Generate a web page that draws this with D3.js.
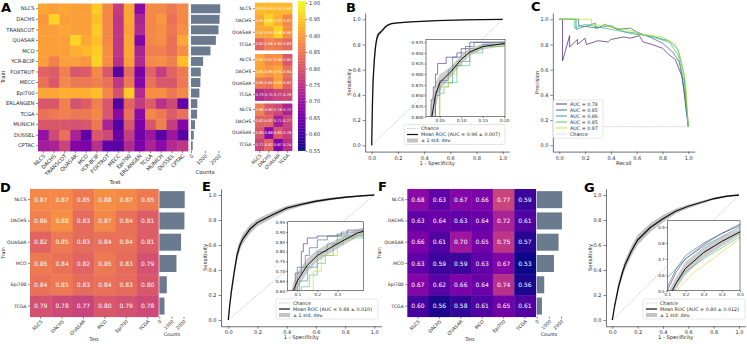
<!DOCTYPE html>
<html>
<head>
<meta charset="utf-8">
<script src="https://cdn.jsdelivr.net/npm/d3@7"></script>
<style>
body { margin: 0; background: #fff; }
svg text { font-family: "DejaVu Sans", sans-serif; fill: #262626; }
</style>
</head>
<body>
<svg id="fig" width="747" height="344"></svg>
<script>
//---------------- data

const cohortsA = ["NLCS","DACHS","TRANSCOT","QUASAR","MCO","YCR-BCIP","FOXTROT","MECC","Epi700","ERLANGEN","TCGA","MUNICH","DUSSEL","CPTAC"]
const matrixA = [
  [0.91,0.90,0.91,0.90,0.90,0.95,0.87,0.76,0.91,0.68,0.87,0.87,0.85,0.87],
  [0.89,0.96,0.90,0.90,0.90,0.94,0.87,0.75,0.91,0.72,0.87,0.89,0.84,0.87],
  [0.90,0.90,0.91,0.90,0.90,0.95,0.87,0.75,0.90,0.73,0.87,0.88,0.85,0.88],
  [0.90,0.90,0.90,0.96,0.91,0.94,0.87,0.75,0.91,0.67,0.87,0.88,0.84,0.91],
  [0.90,0.90,0.90,0.92,0.93,0.95,0.88,0.75,0.91,0.72,0.86,0.86,0.84,0.88],
  [0.90,0.86,0.90,0.90,0.89,0.96,0.88,0.74,0.90,0.73,0.87,0.88,0.86,0.94],
  [0.82,0.81,0.86,0.80,0.81,0.87,0.80,0.62,0.83,0.66,0.82,0.76,0.82,0.85],
  [0.84,0.80,0.87,0.85,0.85,0.86,0.84,0.75,0.85,0.67,0.84,0.80,0.80,0.85],
  [0.91,0.91,0.92,0.92,0.92,0.94,0.87,0.79,0.95,0.73,0.88,0.88,0.85,0.87],
  [0.80,0.80,0.86,0.79,0.81,0.86,0.80,0.61,0.82,0.76,0.81,0.74,0.78,0.63],
  [0.84,0.85,0.86,0.85,0.85,0.87,0.80,0.68,0.84,0.68,0.87,0.85,0.81,0.84],
  [0.80,0.80,0.80,0.79,0.80,0.85,0.72,0.61,0.80,0.66,0.80,0.86,0.76,0.67],
  [0.69,0.78,0.84,0.72,0.63,0.80,0.78,0.64,0.76,0.65,0.70,0.62,0.70,0.62],
  [0.71,0.72,0.77,0.67,0.66,0.74,0.63,0.62,0.73,0.66,0.72,0.68,0.73,0.75]
]
const countsA = [2125,2075,2000,1810,1415,880,710,680,610,460,440,290,200,125]

const subCohorts = ["NLCS","DACHS","QUASAR","TCGA"]
const subMatrix1 = [[0.93,0.93,0.93,0.93],[0.91,0.96,0.92,0.87],[0.91,0.91,0.96,0.88],[0.82,0.86,0.85,0.83]]
const subMatrix2 = [[0.91,0.87,0.88,0.80],[0.91,0.89,0.91,0.84],[0.85,0.84,0.90,0.82],[0.73,0.75,0.77,0.78]]
const subMatrix3 = [[0.86,0.80,0.78,0.72],[0.82,0.82,0.71,0.77],[0.80,0.68,0.80,0.76],[0.77,0.82,0.67,0.74]]
const colorbarTicks = [0.55,0.60,0.65,0.70,0.75,0.80,0.85,0.90,0.95,1.00]

const cohortsD = ["NLCS","DACHS","QUASAR","MCO","Epi700","TCGA"]
const matrixD = [
  [0.87,0.87,0.85,0.88,0.87,0.85],
  [0.86,0.88,0.83,0.87,0.84,0.81],
  [0.82,0.85,0.83,0.84,0.84,0.81],
  [0.85,0.84,0.82,0.85,0.83,0.79],
  [0.84,0.85,0.83,0.84,0.83,0.80],
  [0.79,0.78,0.77,0.80,0.79,0.78]
]
const matrixF = [
  [0.68,0.63,0.67,0.66,0.77,0.59],
  [0.63,0.64,0.63,0.64,0.72,0.61],
  [0.66,0.61,0.70,0.65,0.75,0.57],
  [0.63,0.59,0.59,0.63,0.67,0.53],
  [0.67,0.62,0.66,0.64,0.74,0.56],
  [0.60,0.56,0.58,0.61,0.65,0.61]
]
const countsD = [2100,2075,1800,1420,620,430]
const countTicks = [0,1000,2000]

// ROC: [fpr, tpr, std]
const rocMeanB = [[0,0,0],[0.005,0.3,0.08],[0.01,0.5,0.08],[0.02,0.68,0.06],[0.03,0.79,0.045],[0.04,0.85,0.03],[0.05,0.88,0.02],[0.06,0.89,0.015],[0.08,0.91,0.012],[0.1,0.935,0.01],[0.12,0.952,0.008],[0.15,0.965,0.007],[0.2,0.972,0.006],[0.3,0.98,0.004],[0.5,0.99,0.003],[0.7,0.995,0.002],[1,1,0]]
const rocFoldsB = [
  [[0.03,0.80],[0.03,0.84],[0.035,0.87],[0.04,0.90],[0.045,0.925],[0.065,0.94],[0.09,0.95],[0.10,0.96],[0.12,0.975],[0.2,0.975]],
  [[0.035,0.80],[0.04,0.85],[0.05,0.885],[0.07,0.91],[0.08,0.94],[0.10,0.95],[0.11,0.965],[0.13,0.975],[0.2,0.975]],
  [[0.04,0.80],[0.04,0.86],[0.05,0.88],[0.08,0.92],[0.10,0.93],[0.12,0.96],[0.15,0.97],[0.2,0.97]],
  [[0.04,0.80],[0.05,0.855],[0.06,0.87],[0.07,0.88],[0.09,0.92],[0.12,0.95],[0.15,0.965],[0.2,0.965]],
  [[0.045,0.80],[0.05,0.87],[0.07,0.90],[0.09,0.93],[0.11,0.955],[0.14,0.965],[0.2,0.965]]
]
const rocMeanE = [[0,0,0],[0.01,0.12,0.03],[0.02,0.22,0.04],[0.04,0.38,0.045],[0.06,0.52,0.045],[0.08,0.60,0.04],[0.1,0.65,0.04],[0.15,0.73,0.035],[0.2,0.78,0.03],[0.3,0.84,0.025],[0.4,0.895,0.02],[0.5,0.925,0.015],[0.6,0.95,0.012],[0.7,0.968,0.01],[0.8,0.982,0.007],[0.9,0.992,0.004],[1,1,0]]
const rocFoldsE = [
  [[0.09,0.60],[0.09,0.69],[0.12,0.80],[0.13,0.84],[0.15,0.87],[0.2,0.88],[0.3,0.89],[0.35,0.91],[0.43,0.92]],
  [[0.10,0.60],[0.10,0.72],[0.14,0.78],[0.16,0.82],[0.2,0.86],[0.25,0.88],[0.32,0.90],[0.43,0.915]],
  [[0.11,0.60],[0.11,0.65],[0.15,0.72],[0.2,0.80],[0.25,0.84],[0.3,0.88],[0.43,0.90]],
  [[0.12,0.60],[0.12,0.62],[0.16,0.68],[0.2,0.74],[0.24,0.78],[0.28,0.84],[0.33,0.87],[0.43,0.89]],
  [[0.14,0.60],[0.18,0.70],[0.22,0.78],[0.3,0.86],[0.38,0.89],[0.43,0.90]]
]
const rocMeanG = [[0,0,0],[0.02,0.12,0.02],[0.05,0.27,0.03],[0.08,0.38,0.035],[0.1,0.44,0.04],[0.15,0.55,0.04],[0.2,0.64,0.04],[0.3,0.74,0.035],[0.4,0.81,0.03],[0.5,0.87,0.02],[0.6,0.91,0.015],[0.7,0.94,0.012],[0.8,0.97,0.008],[0.9,0.99,0.004],[1,1,0]]
const rocFoldsG = [
  [[0.1,0.50],[0.15,0.62],[0.2,0.70],[0.3,0.79],[0.4,0.86],[0.5,0.91]],
  [[0.1,0.52],[0.15,0.64],[0.2,0.72],[0.3,0.80],[0.4,0.86],[0.5,0.92]],
  [[0.1,0.58],[0.15,0.64],[0.2,0.70],[0.3,0.78],[0.4,0.84],[0.5,0.90]],
  [[0.12,0.50],[0.2,0.62],[0.3,0.70],[0.4,0.77],[0.5,0.84]],
  [[0.15,0.50],[0.25,0.62],[0.35,0.70],[0.42,0.76],[0.5,0.83]]
]

// PR curves: [recall, precision]
const prCurves = [
  [[0,1],[0.025,1],[0.025,0.67],[0.08,0.87],[0.08,0.78],[0.14,0.84],[0.14,0.80],[0.2,0.85],[0.21,0.80],[0.3,0.83],[0.38,0.82],[0.4,0.84],[0.5,0.86],[0.55,0.85],[0.62,0.87],[0.65,0.82],[0.72,0.80],[0.8,0.77],[0.85,0.72],[0.9,0.68],[0.93,0.60],[0.95,0.55],[0.97,0.40],[0.98,0.30],[1,0.15]],
  [[0,1],[0.15,1],[0.15,0.95],[0.3,0.93],[0.35,0.96],[0.45,0.92],[0.55,0.93],[0.6,0.90],[0.7,0.86],[0.8,0.81],[0.88,0.74],[0.93,0.66],[0.96,0.50],[0.98,0.35],[1,0.15]],
  [[0,1],[0.13,1],[0.13,0.92],[0.28,0.97],[0.28,0.93],[0.4,0.95],[0.5,0.90],[0.6,0.88],[0.7,0.87],[0.85,0.83],[0.92,0.76],[0.97,0.55],[1,0.15]],
  [[0,1],[0.12,1],[0.12,0.93],[0.2,0.96],[0.3,0.94],[0.45,0.91],[0.6,0.89],[0.72,0.86],[0.85,0.82],[0.92,0.72],[0.97,0.50],[1,0.15]],
  [[0,1],[0.25,1],[0.25,0.96],[0.35,0.95],[0.45,0.93],[0.55,0.91],[0.65,0.88],[0.8,0.86],[0.9,0.80],[0.94,0.70],[0.98,0.50],[1,0.15]]
]
const prAUC = [0.78,0.85,0.86,0.85,0.87]
const prChance = 0.148
const unitTicks = [0,0.2,0.4,0.6,0.8,1.0]

//---------------- setup

const svg = d3.select("#fig")
const plasma = d3.scaleSequential(d3.interpolatePlasma).domain([0.55,1.0]).clamp(true)
const foldColor = d3.scaleOrdinal().domain([0,1,2,3,4])
  .range([0.1,0.3,0.5,0.7,0.9].map(d3.interpolateViridis))
const axisColor = "#333"

function styleAxis(g, fs) {
  g.selectAll("line").attr("stroke", axisColor).attr("stroke-width", 0.6)
  g.selectAll(".domain").attr("stroke", axisColor).attr("stroke-width", 0.7)
  g.selectAll("text").attr("font-size", fs).attr("fill", "#262626").attr("font-family", "DejaVu Sans")
}

function rotateLabels(g, fs) {
  g.selectAll("text")
    .attr("font-size", fs)
    .attr("text-anchor", "end")
    .attr("x", 0).attr("y", 0).attr("dy", "0.35em")
    .attr("transform", "translate(1,4) rotate(-45)")
}

function label(x, y, txt, fs, opt = {}) {
  const t = svg.append("text").attr("x", x).attr("y", y).attr("font-size", fs)
    .attr("text-anchor", opt.anchor || "middle").text(txt)
  if (opt.rotate) t.attr("transform", `rotate(${opt.rotate},${x},${y})`)
  if (opt.bold) t.attr("font-weight", "bold")
  return t
}

//---------------- heatmap helper

function heatmap(box, rows, cols, mat, opt) {
  const xs = d3.scaleBand().domain(cols).range([box.x0, box.x1])
  const ys = d3.scaleBand().domain(rows).range([box.y0, box.y1])
  const g = svg.append("g")
  const cells = []
  rows.forEach((r, i) => cols.forEach((c, j) => cells.push({r, c, v: mat[i][j]})))
  g.selectAll("rect").data(cells).join("rect")
    .attr("x", d => xs(d.c)).attr("y", d => ys(d.r))
    .attr("width", xs.bandwidth() + 0.4).attr("height", ys.bandwidth() + 0.4)
    .attr("fill", d => plasma(d.v))
  if (opt.annot) {
    g.selectAll("text.val").data(cells).join("text").attr("class", "val")
      .attr("x", d => xs(d.c) + xs.bandwidth() / 2)
      .attr("y", d => ys(d.r) + ys.bandwidth() / 2)
      .attr("dy", "0.36em").attr("text-anchor", "middle")
      .attr("font-size", opt.annot).style("fill", "#fff")
      .text(d => d3.format(".2f")(d.v))
  }
  const ya = g.append("g").attr("transform", `translate(${box.x0},0)`)
    .call(d3.axisLeft(ys).tickSize(2).tickPadding(1.5))
  ya.select(".domain").remove()
  styleAxis(ya, opt.fs)
  if (opt.xlabels) {
    const xa = g.append("g").attr("transform", `translate(0,${box.y1})`)
      .call(d3.axisBottom(xs).tickSize(2))
    xa.select(".domain").remove()
    styleAxis(xa, opt.fs)
    rotateLabels(xa, opt.fs)
  }
  return {xs, ys}
}

function bars(box, rows, counts, xRange, pad, fs) {
  const ys = d3.scaleBand().domain(rows).range([box.y0, box.y1]).paddingInner(pad).paddingOuter(pad / 2)
  const xs = d3.scaleLinear().domain([0, 2000]).range(xRange)
  svg.append("g").selectAll("rect").data(counts).join("rect")
    .attr("x", xs(0)).attr("y", (d, i) => ys(rows[i]))
    .attr("width", d => xs(d) - xs(0)).attr("height", ys.bandwidth())
    .attr("fill", "#6b7b8f")
  const xa = svg.append("g").attr("transform", `translate(0,${box.y1})`)
    .call(d3.axisBottom(xs).tickValues(countTicks).tickSize(2).tickFormat(d3.format("d")))
  xa.select(".domain").remove()
  styleAxis(xa, fs)
  rotateLabels(xa, fs)
}

//---------------- ROC helper

function rocPanel(p) {
  const x = d3.scaleLinear().domain([0, 1]).range([p.xa, p.xb])
  const y = d3.scaleLinear().domain([0, 1]).range([p.ya, p.yb])
  const xAxisScale = x.copy().domain([-0.05, 1.05]).range([x(-0.05), x(1.05)])
  const yAxisScale = y.copy().domain([-0.05, 1.05]).range([y(-0.05), y(1.05)])

  const gx = svg.append("g").attr("transform", `translate(0,${y(-0.05)})`)
    .call(d3.axisBottom(xAxisScale).tickValues(unitTicks).tickSize(2.5).tickSizeOuter(0).tickPadding(2).tickFormat(d3.format(".1f")))
  styleAxis(gx, 5)
  const gy = svg.append("g").attr("transform", `translate(${x(-0.05)},0)`)
    .call(d3.axisLeft(yAxisScale).tickValues(unitTicks).tickSize(2.5).tickSizeOuter(0).tickPadding(2).tickFormat(d3.format(".1f")))
  styleAxis(gy, 5)

  label((p.xa + p.xb) / 2, y(-0.05) + 13, "1 - Specificity", 5.2)
  label(x(-0.05) - 14, (p.ya + p.yb) / 2, "Sensitivity", 5.2, {rotate: -90})

  svg.append("line").attr("x1", x(0)).attr("y1", y(0)).attr("x2", x(1)).attr("y2", y(1))
    .attr("stroke", "#aaa").attr("stroke-width", 0.6).attr("stroke-dasharray", "1.5,1")

  const band = d3.area().x(d => x(d[0])).y0(d => y(Math.max(0, d[1] - d[2]))).y1(d => y(Math.min(1, d[1] + d[2])))
  const line = d3.line().x(d => x(d[0])).y(d => y(d[1]))
  svg.append("path").attr("d", band(p.mean)).attr("fill", "#999").attr("opacity", 0.6)
  svg.append("path").attr("d", line(p.mean)).attr("fill", "none").attr("stroke", "#111").attr("stroke-width", 1.3)

  // inset
  const ix = d3.scaleLinear().domain(p.inset.xd).range([p.inset.x0, p.inset.x1])
  const iy = d3.scaleLinear().domain(p.inset.yd).range([p.inset.y1, p.inset.y0])
  const clipId = "clip" + p.id
  svg.append("clipPath").attr("id", clipId).append("rect")
    .attr("x", p.inset.x0).attr("y", p.inset.y0)
    .attr("width", p.inset.x1 - p.inset.x0).attr("height", p.inset.y1 - p.inset.y0)
  svg.append("rect").attr("x", p.inset.x0).attr("y", p.inset.y0)
    .attr("width", p.inset.x1 - p.inset.x0).attr("height", p.inset.y1 - p.inset.y0)
    .attr("fill", "#fff")
  const ig = svg.append("g").attr("clip-path", `url(#${clipId})`)
  const iline = d3.line().x(d => ix(d[0])).y(d => iy(d[1])).curve(p.inset.step ? d3.curveStepAfter : d3.curveLinear)
  p.folds.forEach((f, i) => {
    ig.append("path").attr("d", iline(f)).attr("fill", "none")
      .attr("stroke", foldColor(i)).attr("stroke-width", 0.7).attr("opacity", 0.85)
  })
  const iband = d3.area().x(d => ix(d[0])).y0(d => iy(d[1] - d[2])).y1(d => iy(d[1] + d[2]))
  ig.append("path").attr("d", iband(p.mean)).attr("fill", "#999").attr("opacity", 0.5)
  ig.append("path").attr("d", d3.line().x(d => ix(d[0])).y(d => iy(d[1]))(p.mean))
    .attr("fill", "none").attr("stroke", "#111").attr("stroke-width", 1)
  svg.append("rect").attr("x", p.inset.x0).attr("y", p.inset.y0)
    .attr("width", p.inset.x1 - p.inset.x0).attr("height", p.inset.y1 - p.inset.y0)
    .attr("fill", "none").attr("stroke", "#333").attr("stroke-width", 0.6)
  const ixa = svg.append("g").attr("transform", `translate(0,${p.inset.y1})`)
    .call(d3.axisBottom(ix).tickValues(p.inset.xt).tickSize(1.5).tickPadding(1).tickFormat(d3.format(p.inset.xf)))
  ixa.select(".domain").remove()
  styleAxis(ixa, 4.2)
  const iya = svg.append("g").attr("transform", `translate(${p.inset.x0},0)`)
    .call(d3.axisLeft(iy).tickValues(p.inset.yt).tickSize(1.5).tickPadding(1).tickFormat(d3.format(p.inset.yf)))
  iya.select(".domain").remove()
  styleAxis(iya, 4.2)

  // legend
  const L = p.legend
  svg.append("rect").attr("x", L.x).attr("y", L.y).attr("width", L.w).attr("height", 20)
    .attr("rx", 1.5).attr("fill", "#fff").attr("fill-opacity", 0.85).attr("stroke", "#ccc").attr("stroke-width", 0.5)
  const ly = i => L.y + 4 + i * 6
  svg.append("line").attr("x1", L.x + 3).attr("x2", L.x + 14).attr("y1", ly(0)).attr("y2", ly(0))
    .attr("stroke", "#aaa").attr("stroke-width", 0.6).attr("stroke-dasharray", "1.5,1")
  svg.append("line").attr("x1", L.x + 3).attr("x2", L.x + 14).attr("y1", ly(1)).attr("y2", ly(1))
    .attr("stroke", "#111").attr("stroke-width", 1.2)
  svg.append("rect").attr("x", L.x + 3).attr("y", ly(2) - 2).attr("width", 11).attr("height", 4)
    .attr("fill", "#999").attr("opacity", 0.6)
  ;["Chance", p.meanLabel, "± 1 std. dev."].forEach((t, i) => {
    svg.append("text").attr("x", L.x + 17).attr("y", ly(i)).attr("dy", "0.35em").attr("font-size", 4.8).text(t)
  })
}

//---------------- Panel A

heatmap({x0: 38, x1: 188, y0: 3.5, y1: 151}, cohortsA, cohortsA, matrixA, {fs: 5.2, xlabels: true})
bars({y0: 3.5, y1: 151}, cohortsA, countsA, [191, 218.5], 0.15, 5)
label(5, 77, "Train", 5.5, {rotate: -90})
label(115, 184, "Test", 5.5)
label(205, 174, "Counts", 5.5)

const subBoxes = [[2.7, 50], [54, 100.5], [103.5, 150.7]]
const subMats = [subMatrix1, subMatrix2, subMatrix3]
subBoxes.forEach((b, k) => {
  heatmap({x0: 255, x1: 292, y0: b[0], y1: b[1]}, subCohorts, subCohorts, subMats[k],
    {fs: 4.6, annot: 3.6, xlabels: k === 2})
})

// colorbar
const cbScale = d3.scaleLinear().domain([0.55, 1.0]).range([150.7, 2.7])
const cbSteps = d3.range(0, 101).map(i => 0.55 + i * 0.0045)
svg.append("g").selectAll("rect").data(cbSteps).join("rect")
  .attr("x", 298).attr("y", d => cbScale(d) - 1.6).attr("width", 7.5).attr("height", 1.8)
  .attr("fill", d => plasma(d))
const cba = svg.append("g").attr("transform", "translate(305.5,0)")
  .call(d3.axisRight(cbScale).tickValues(colorbarTicks).tickSize(2).tickPadding(1.5).tickFormat(d3.format(".2f")))
cba.select(".domain").remove()
styleAxis(cba, 5)

//---------------- Panel B

rocPanel({
  id: "B", xa: 371.7, xb: 502.7, ya: 145.3, yb: 19.3,
  mean: rocMeanB, folds: rocFoldsB,
  inset: {x0: 426, x1: 505, y0: 39.3, y1: 116.7, xd: [0.018, 0.202], yd: [0.8, 0.982],
    xt: [0.05, 0.10, 0.15, 0.20], xf: ".2f", yt: [0.8, 0.825, 0.85, 0.875, 0.9, 0.925, 0.95, 0.975], yf: ".3f", step: true},
  legend: {x: 404, y: 124.5, w: 101},
  meanLabel: "Mean ROC (AUC = 0.96 ± 0.007)"
})

//---------------- Panel C

{
  const x = d3.scaleLinear().domain([0, 1]).range([559.3, 688.3])
  const y = d3.scaleLinear().domain([0, 1]).range([145.3, 19.3])
  const gx = svg.append("g").attr("transform", `translate(0,${y(-0.05)})`)
    .call(d3.axisBottom(x.copy().domain([-0.05, 1.05]).range([x(-0.05), x(1.05)])).tickValues(unitTicks).tickSize(2.5).tickSizeOuter(0).tickPadding(2).tickFormat(d3.format(".1f")))
  styleAxis(gx, 5)
  const gy = svg.append("g").attr("transform", `translate(${x(-0.05)},0)`)
    .call(d3.axisLeft(y.copy().domain([-0.05, 1.05]).range([y(-0.05), y(1.05)])).tickValues(unitTicks).tickSize(2.5).tickSizeOuter(0).tickPadding(2).tickFormat(d3.format(".1f")))
  styleAxis(gy, 5)
  label(623.8, y(-0.05) + 13, "Recall", 5.2)
  label(x(-0.05) - 14, 82.3, "Precision", 5.2, {rotate: -90})
  svg.append("line").attr("x1", x(0)).attr("x2", x(1)).attr("y1", y(prChance)).attr("y2", y(prChance))
    .attr("stroke", "#c9a3b0").attr("stroke-width", 0.6).attr("stroke-dasharray", "1.5,1")
  const line = d3.line().x(d => x(d[0])).y(d => y(d[1]))
  prCurves.forEach((c, i) => {
    svg.append("path").attr("d", line(c)).attr("fill", "none")
      .attr("stroke", foldColor(i)).attr("stroke-width", 0.8).attr("opacity", 0.9)
  })
  const lx = 553, ly0 = 100
  svg.append("rect").attr("x", lx).attr("y", ly0).attr("width", 50).attr("height", 38)
    .attr("rx", 1.5).attr("fill", "#fff").attr("fill-opacity", 0.85).attr("stroke", "#ccc").attr("stroke-width", 0.5)
  const labels = prAUC.map(a => "AUC = " + d3.format(".2f")(a)).concat(["Chance"])
  labels.forEach((t, i) => {
    const yy = ly0 + 4 + i * 6
    svg.append("line").attr("x1", lx + 3).attr("x2", lx + 14).attr("y1", yy).attr("y2", yy)
      .attr("stroke", i < 5 ? foldColor(i) : "#c9a3b0").attr("stroke-width", i < 5 ? 0.9 : 0.6)
      .attr("stroke-dasharray", i < 5 ? null : "1.5,1")
    svg.append("text").attr("x", lx + 17).attr("y", yy).attr("dy", "0.35em").attr("font-size", 4.8).text(t)
  })
}

//---------------- Panel D

heatmap({x0: 30, x1: 158.3, y0: 189, y1: 316.7}, cohortsD, cohortsD, matrixD, {fs: 4.6, annot: 6, xlabels: true})
bars({y0: 189, y1: 316.7}, cohortsD, countsD, [159.3, 183.5], 0.2, 4.6)
label(5, 253, "Train", 4.8, {rotate: -90})
label(94, 341, "Test", 4.8)
label(172, 336, "Counts", 4.8)

//---------------- Panel E

rocPanel({
  id: "E", xa: 228.3, xb: 374.3, ya: 320, yb: 195,
  mean: rocMeanE, folds: rocFoldsE,
  inset: {x0: 287.7, x1: 363.3, y0: 221.7, y1: 290.7, xd: [0.052, 0.43], yd: [0.6, 0.953],
    xt: [0.1, 0.2, 0.3], xf: ".1f", yt: [0.6, 0.65, 0.7, 0.75, 0.8, 0.85, 0.9, 0.95], yf: ".2f", step: true},
  legend: {x: 276, y: 299, w: 102},
  meanLabel: "Mean ROC (AUC = 0.88 ± 0.010)"
})

//---------------- Panel F

heatmap({x0: 407.3, x1: 535.7, y0: 189, y1: 316.7}, cohortsD, cohortsD, matrixF, {fs: 4.6, annot: 6, xlabels: true})
bars({y0: 189, y1: 316.7}, cohortsD, countsD, [536.7, 561], 0.2, 4.6)
label(381, 253, "Train", 4.8, {rotate: -90})
label(470, 341, "Test", 4.8)
label(549, 336, "Counts", 4.8)

//---------------- Panel G

rocPanel({
  id: "G", xa: 612.3, xb: 739, ya: 320, yb: 195,
  mean: rocMeanG, folds: rocFoldsG,
  inset: {x0: 667.3, x1: 740, y0: 220.7, y1: 290.7, xd: [0.1, 0.5], yd: [0.5, 0.94],
    xt: [0.1, 0.2, 0.3, 0.4, 0.5], xf: ".1f", yt: [0.5, 0.6, 0.7, 0.8, 0.9], yf: ".1f", step: false},
  legend: {x: 643, y: 299, w: 102},
  meanLabel: "Mean ROC (AUC = 0.80 ± 0.012)"
})

//---------------- panel letters
const letters = [["A", 1, 12], ["B", 346, 12], ["C", 531, 11], ["D", 0, 192], ["E", 202, 191], ["F", 378, 191], ["G", 584, 192]]
letters.forEach(l => label(l[1], l[2], l[0], 13, {anchor: "start", bold: true}).style("fill", "#000"))
</script>
</body>
</html>
